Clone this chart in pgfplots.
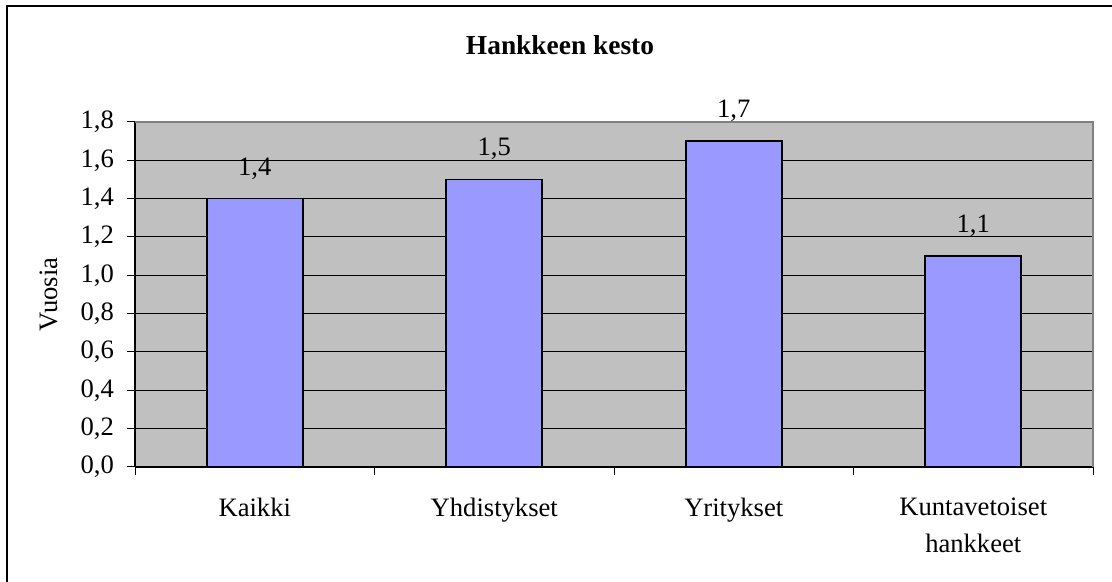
\documentclass[border=0pt]{standalone}
\usepackage{pgfplots}
\pgfplotsset{compat=1.18}
\usepackage{fontspec}
\setmainfont{Liberation Serif}
\definecolor{barfill}{HTML}{9999FF}
\definecolor{plotbg}{HTML}{C0C0C0}
\definecolor{framegray}{HTML}{808080}
\begin{document}
\begin{tikzpicture}[font=\fontsize{13.3pt}{18.5pt}\selectfont]
\path[use as bounding box] (0,0) rectangle (556pt,291pt);
\draw[line width=0.8pt] (3.5pt,-1pt) -- (3.5pt,288pt) -- (557pt,288pt);
\node[font=\bfseries\fontsize{13.7pt}{16pt}\selectfont] at (280pt,268.5pt) {Hankkeen kesto};
\begin{axis}[
  at={(67.5pt,57.5pt)}, anchor=south west,
  scale only axis, width=479pt, height=172.5pt,
  ymin=0, ymax=1.8, xmin=-0.5, xmax=3.5,
  ytick={0,0.2,0.4,0.6,0.8,1.0,1.2,1.4,1.6,1.8},
  xtick={0,1,2,3},
  xticklabels={Kaikki,Yhdistykset,Yritykset,{Kuntavetoiset\\hankkeet}},
  xticklabel style={align=center, yshift=-8pt, font=\fontsize{13.3pt}{18.5pt}\selectfont},
  yticklabel style={xshift=-3pt, font=\fontsize{13.3pt}{16pt}\selectfont},
  minor xtick={-0.5,0.5,1.5,2.5,3.5},
  major x tick style={draw=none},
  tick align=outside, major tick length=4pt, minor tick length=4pt,
  tick style={black, line width=0.5pt},
  axis x line*=bottom, axis y line*=left,
  axis line style={black, line width=0.6pt, -},
  ymajorgrids, grid style={black, line width=0.5pt},
  axis background/.style={fill=plotbg},
  /pgf/number format/.cd, use comma, fixed, fixed zerofill, precision=1, assume math mode=true,
  /pgfplots/.cd,
  ylabel={Vuosia},
  ylabel style={at={(axis description cs:-0.09,0.5)}, anchor=center, font=\fontsize{13.3pt}{16pt}\selectfont},
  ybar, bar width=48pt,
  nodes near coords,
  nodes near coords style={font=\fontsize{13.3pt}{16pt}\selectfont, yshift=6pt, /pgf/number format/.cd, use comma, fixed, fixed zerofill, precision=1, assume math mode=true},
  clip=false,
]
\addplot[fill=barfill, draw=black, line width=0.8pt] coordinates {(0,1.4) (1,1.5) (2,1.7) (3,1.1)};
\draw[framegray, line width=0.8pt] (rel axis cs:0,1) -- (rel axis cs:1,1) -- (rel axis cs:1,0);
\end{axis}
\end{tikzpicture}
\end{document}
